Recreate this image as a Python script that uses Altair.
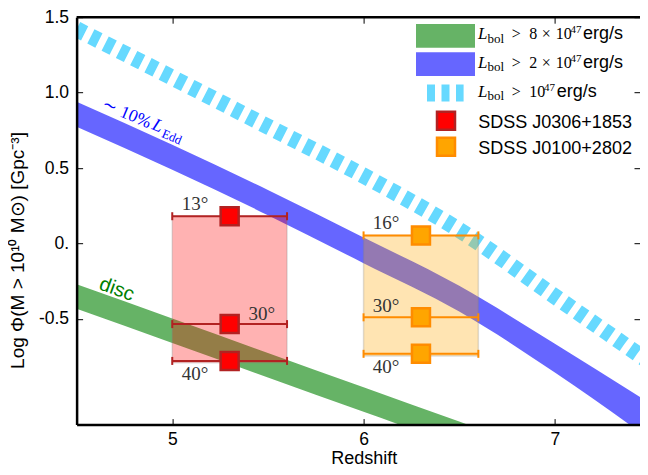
import altair as alt
import pandas as pd

# ---------------- data ----------------
z_green = [4.5, 5.0, 5.5, 6.0, 6.5, 7.0]
green_hi = [-0.27, -0.497, -0.725, -0.952, -1.18, -1.41]
green_lo = [-0.433, -0.66, -0.888, -1.115, -1.343, -1.57]

z_blue = [4.5, 5.0, 5.5, 6.0, 6.5, 7.0, 7.5]
blue_hi = [0.94, 0.655, 0.355, 0.04, -0.28, -0.665, -1.06]
blue_lo = [0.774, 0.489, 0.188, -0.13, -0.45, -0.855, -1.30]

z_cyan = [4.5, 5.0, 5.5, 6.0, 6.5, 7.0, 7.5]
cyan_mid = [1.42, 1.10, 0.775, 0.45, 0.09, -0.35, -0.79]

src_names = ["SDSS J0306+1853", "SDSS J0100+2802"]
src_z = [5.3, 6.3]
src_zerr = [0.3, 0.3]
src_phi = [[0.181, -0.534, -0.778], [0.054, -0.489, -0.731]]
src_box = [[0.181, -0.79], [0.054, -0.745]]
src_fill = ["#ff0000", "#ffa500"]
src_edge = ["#b22222", "#ff8c00"]

angle_text = ["13°", "30°", "40°", "16°", "30°", "40°"]
angle_z = [5.049, 5.398, 5.049, 6.048, 6.048, 6.048]
angle_v = [0.224, -0.506, -0.905, 0.094, -0.456, -0.855]

legend_factor = ["8", "2", ""]

# ---------------- layout ----------------
W, H = 563.4, 407.4
X0, Y0 = 76.6, 17.2          # page position of plot origin
xs = alt.Scale(domain=[4.5, 7.445], nice=False, zero=False)
ys = alt.Scale(domain=[-1.2, 1.5], nice=False, zero=False)

xaxis = alt.Axis(
    title="Redshift", values=[5, 6, 7], format="d",
    grid=True, gridDash=[6, H - 12], gridColor="black", gridWidth=1, gridOpacity=1,
    ticks=False, tickSize=0, domain=True, domainColor="black", domainWidth=2.5,
    labelFont="Liberation Sans", labelFontSize=17.5, labelColor="black",
    labelBaseline="alphabetic", labelPadding=19.5,
    titleFont="Liberation Sans", titleFontSize=18, titleFontWeight="normal",
    titleColor="black", titleX=287.2, titleY=38.4, titleBaseline="alphabetic",
    titleAlign="center", zindex=1)
yaxis = alt.Axis(
    title="Log Φ(M > 10¹⁰ M⊙) [Gpc⁻³]", values=[-0.5, 0, 0.5, 1.0, 1.5],
    labelExpr="datum.value == 0 ? '0.' : (datum.value < 0 ? '-' : '') + format(abs(datum.value), '.1f')",
    grid=True, gridDash=[6, W - 12], gridColor="black", gridWidth=1, gridOpacity=1,
    ticks=False, tickSize=0, domain=True, domainColor="black", domainWidth=2.5,
    labelFont="Liberation Sans", labelFontSize=17.5, labelColor="black", labelPadding=8,
    titleFont="Liberation Sans", titleFontSize=19, titleFontWeight="normal",
    titleColor="black", titleX=-59, titleY=232.8, titleAngle=-90,
    titleBaseline="middle", titleAlign="center", zindex=1)


def X(f):
    return alt.X(f, type="quantitative", scale=xs, axis=xaxis)


def Y(f):
    return alt.Y(f, type="quantitative", scale=ys, axis=yaxis)


layers = []

green = pd.DataFrame({"z": z_green, "hi": green_hi, "lo": green_lo})
layers.append(alt.Chart(green).mark_area(color="#66b366", clip=True, interpolate="monotone")
              .encode(x=X("z"), y=Y("hi"), y2="lo"))
blue = pd.DataFrame({"z": z_blue, "hi": blue_hi, "lo": blue_lo})
layers.append(alt.Chart(blue).mark_area(color="#6666ff", clip=True, interpolate="monotone")
              .encode(x=X("z"), y=Y("hi"), y2="lo"))
cyan = pd.DataFrame({"z": z_cyan, "v": cyan_mid})
layers.append(alt.Chart(cyan).mark_line(color="#66d9ff", strokeWidth=16, strokeDash=[9, 7],
                                        strokeCap="butt", clip=True, interpolate="monotone")
              .encode(x=X("z"), y=Y("v")))

boxes = pd.DataFrame({
    "x1": [z - e for z, e in zip(src_z, src_zerr)],
    "x2": [z + e for z, e in zip(src_z, src_zerr)],
    "y1": [b[0] for b in src_box], "y2": [b[1] for b in src_box],
    "c": src_fill})
layers.append(alt.Chart(boxes).mark_rect(fillOpacity=0.3, stroke="#808080", strokeOpacity=0.25,
                                         strokeWidth=1.5)
              .encode(x=X("x1"), x2="x2", y=Y("y1"), y2="y2", fill=alt.Fill("c:N", scale=None)))

rows = []
for i in range(2):
    for v in src_phi[i]:
        rows.append({"z": src_z[i], "lo": src_z[i] - src_zerr[i], "hi": src_z[i] + src_zerr[i],
                     "v": v, "fill": src_fill[i], "edge": src_edge[i]})
pts = pd.DataFrame(rows)
layers.append(alt.Chart(pts).mark_rule(strokeWidth=2)
              .encode(x=X("lo"), x2="hi", y=Y("v"), color=alt.Color("edge:N", scale=None)))
caps = pd.concat([pts.assign(cx=pts["lo"]), pts.assign(cx=pts["hi"])])
layers.append(alt.Chart(caps).mark_tick(orient="vertical", size=8, thickness=2, opacity=1)
              .encode(x=X("cx"), y=Y("v"), color=alt.Color("edge:N", scale=None)))
layers.append(alt.Chart(pts).mark_square(size=324, filled=True, strokeWidth=2.5, opacity=1)
              .encode(x=X("z"), y=Y("v"), fill=alt.Fill("fill:N", scale=None),
                      stroke=alt.Stroke("edge:N", scale=None)))

angles = pd.DataFrame({"z": angle_z, "v": angle_v, "t": angle_text})
layers.append(alt.Chart(angles).mark_text(font="Liberation Serif", fontSize=19, color="#333333",
                                          align="left", baseline="alphabetic")
              .encode(x=X("z"), y=Y("v"), text="t:N"))

# annotations along the bands
ann = [("∼ 10%", 4.6276, 0.896, 17.5, "normal"), ("L", 4.889, 0.761, 18, "italic"),
       ("Edd", 4.941, 0.707, 12.5, "normal")]
for t, z, v, fs, st in ann:
    layers.append(alt.Chart(pd.DataFrame({"z": [z], "v": [v], "t": [t]}))
                  .mark_text(font="Liberation Serif", fontSize=fs, fontStyle=st, color="blue",
                             angle=23, align="left", baseline="alphabetic")
                  .encode(x=X("z"), y=Y("v"), text="t:N"))
layers.append(alt.Chart(pd.DataFrame({"z": [4.612], "v": [-0.301], "t": ["disc"]}))
              .mark_text(font="Liberation Sans", fontSize=20, color="green",
                         angle=20, align="left", baseline="alphabetic")
              .encode(x=X("z"), y=Y("v"), text="t:N"))


# ---------------- legend (drawn by hand) ----------------
def ptext(t, x, y, font="Liberation Serif", size=16, style="normal"):
    return (alt.Chart(pd.DataFrame({"t": [t]}))
            .mark_text(font=font, fontSize=size, fontStyle=style, color="black",
                       align="left", baseline="alphabetic")
            .encode(x=alt.value(x - X0), y=alt.value(y - Y0), text="t:N"))


one = pd.DataFrame({"a": [0]})
layers.append(alt.Chart(one).mark_rect(color="#66b366")
              .encode(x=alt.value(416 - X0), x2=alt.value(475 - X0),
                      y=alt.value(24 - Y0), y2=alt.value(47.7 - Y0)))
layers.append(alt.Chart(one).mark_rect(color="#6666ff")
              .encode(x=alt.value(416 - X0), x2=alt.value(475 - X0),
                      y=alt.value(52.3 - Y0), y2=alt.value(76 - Y0)))
layers.append(alt.Chart(one).mark_rule(color="#66d9ff", strokeWidth=17, strokeDash=[8, 6.5], strokeCap="butt")
              .encode(x=alt.value(427 - X0), x2=alt.value(463.6 - X0), y=alt.value(93 - Y0)))
for i, yy in enumerate([120.7, 146.7]):
    layers.append(alt.Chart(one).mark_square(size=324, filled=True, strokeWidth=2.5, opacity=1,
                                             fill=src_fill[i], stroke=src_edge[i])
                  .encode(x=alt.value(446 - X0), y=alt.value(yy - Y0)))

base = [39.3, 67.8, 96.7]
for i in range(3):
    b = base[i]
    layers.append(ptext("L", 478, b, size=17, style="italic"))
    layers.append(ptext("bol", 487.5, b + 3.4, size=13))
    layers.append(ptext(">", 511.7, b))
    if legend_factor[i]:
        layers.append(ptext(legend_factor[i], 529.3, b))
        layers.append(ptext("×", 541.7, b))
        layers.append(ptext("10", 555.7, b))
        layers.append(ptext("47", 570.5, b - 6, size=11))
        layers.append(ptext("erg/s", 583, b, font="Liberation Sans", size=18))
    else:
        layers.append(ptext("10", 529.3, b))
        layers.append(ptext("47", 544, b - 6, size=11))
        layers.append(ptext("erg/s", 556.7, b, font="Liberation Sans", size=18))
layers.append(ptext(src_names[0], 478.3, 128.3, font="Liberation Sans", size=18))
layers.append(ptext(src_names[1], 478.3, 154.0, font="Liberation Sans", size=18))

# top frame
layers.append(alt.Chart(one).mark_rule(color="black", strokeWidth=2.5)
              .encode(x=alt.value(0), x2=alt.value(W), y=alt.value(0)))

chart = (alt.layer(*layers)
         .properties(width=W, height=H,
                     padding={"left": 68.6, "top": 9.2, "right": 0, "bottom": 42.4},
                     autosize=alt.AutoSizeParams(type="none"))
         .configure_view(stroke=None))

chart.save("out.html", embed_options={"renderer": "svg", "actions": False})
